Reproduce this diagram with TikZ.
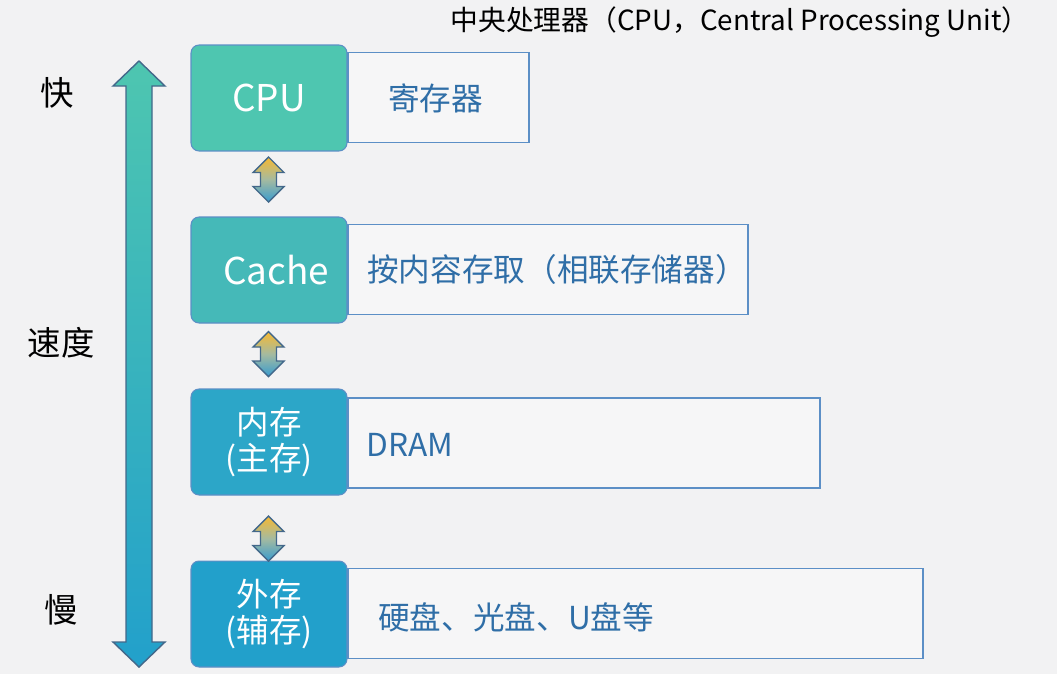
\documentclass[tikz,border=0pt]{standalone}
\usepackage{fontspec}
\setmainfont{Noto Sans CJK SC}
\usepackage{tikz}
\usetikzlibrary{positioning,calc}
\definecolor{hintergrund}{HTML}{F2F2F3}
\definecolor{cpugruen}{HTML}{4EC6B0}
\definecolor{cachegruen}{HTML}{45B9B8}
\definecolor{hauptblau}{HTML}{2CA6C8}
\definecolor{externblau}{HTML}{22A0CB}
\definecolor{rahmenblau}{HTML}{5C8FC6}
\definecolor{textblau}{HTML}{2F6EA7}
\definecolor{pfeilrand}{HTML}{43688A}
\definecolor{pfeilorange}{HTML}{F7B931}
\definecolor{pfeilblau}{HTML}{389CCF}

\begin{document}
\begin{tikzpicture}[x=0.02cm,y=-0.02cm,
  speicher/.style={draw=rahmenblau,line width=0.6pt,rounded corners=0.16cm,minimum width=3.12cm,minimum height=2.12cm,inner sep=0pt,text=white,align=center},
  ablage/.style={draw=rahmenblau,line width=1.1pt,fill=white!30!hintergrund,minimum height=1.8cm,inner sep=0pt,anchor=west},
  ablagetext/.style={text=textblau,font=\fontsize{18}{21}\selectfont,inner sep=0pt},
  seite/.style={font=\fontsize{19}{22}\selectfont,inner sep=0pt},
  blockpfeil/.style={draw=pfeilrand,line width=0.8pt,top color=pfeilorange,bottom color=pfeilblau,middle color=pfeilorange!45!pfeilblau!80!white}]
%Hintergrund und feste Bildgroesse
\fill[hintergrund] (0,0) rectangle (1057,674);
\useasboundingbox (0,0) rectangle (1057,674);
\node[font=\fontsize{15.8}{19}\selectfont,inner sep=0pt] (titel) at (740,22) {中央处理器（CPU，Central Processing Unit）};
%Geschwindigkeit links
\node[seite] (schnell) at (57,93) {快};
\node[seite] (tempo) at (61,343) {速度};
\node[seite] (langsam) at (61,610) {慢};
\draw[pfeilrand,line width=0.8pt,top color=cpugruen,bottom color=externblau] (139,61) -- (165,86) -- (152,86) -- (152,642) -- (165,642) -- (139,667) -- (113,642) -- (126,642) -- (126,86) -- (113,86) -- cycle;
%Kaesten rechts (zuerst, damit die Speicher darueber liegen)
\node[ablage,minimum width=3.62cm] (reg) at (347,97.5) {};
\node[ablage,minimum width=8cm] (assoz) at (347,269.5) {};
\node[ablage,minimum width=9.44cm] (dram) at (347,443) {};
\node[ablage,minimum width=11.5cm] (platte) at (347,613.5) {};
%Speicherhierarchie
\node[speicher,fill=cpugruen,font=\fontsize{21}{25}\selectfont] (cpu) at (269,98) {CPU};
\node[speicher,fill=cachegruen,font=\fontsize{21}{25}\selectfont] (cache) at (269,270) {\hspace*{0.28cm}Cache};
\node[speicher,fill=hauptblau,font=\fontsize{18.5}{21}\selectfont] (haupt) at (269,442) {内存\\(主存)};
\node[speicher,fill=externblau,font=\fontsize{18.5}{21}\selectfont] (extern) at (269,614) {外存\\(辅存)};
%Beschriftungen
\node[ablagetext] (regtext) at ($(reg.center)+(-3,1)$) {寄存器};
\node[ablagetext,right=0.4cm of assoz.west] (assoztext) {按内容存取（相联存储器）};
\node[ablagetext,right=0.38cm of dram.west,yshift=-0.04cm] (dramtext) {DRAM};
\node[ablagetext,right=0.62cm of platte.west,yshift=-0.07cm] (plattetext) {硬盘、光盘、U盘等};
%kleine Doppelpfeile
\foreach \y in {179.5,354,538.5}{
\draw[blockpfeil,shift={(268.5,\y)}] (0,-22.5) -- (15.5,-7) -- (8,-7) -- (8,7) -- (15.5,7) -- (0,22.5) -- (-15.5,7) -- (-8,7) -- (-8,-7) -- (-15.5,-7) -- cycle;
}
\end{tikzpicture}
\end{document}
